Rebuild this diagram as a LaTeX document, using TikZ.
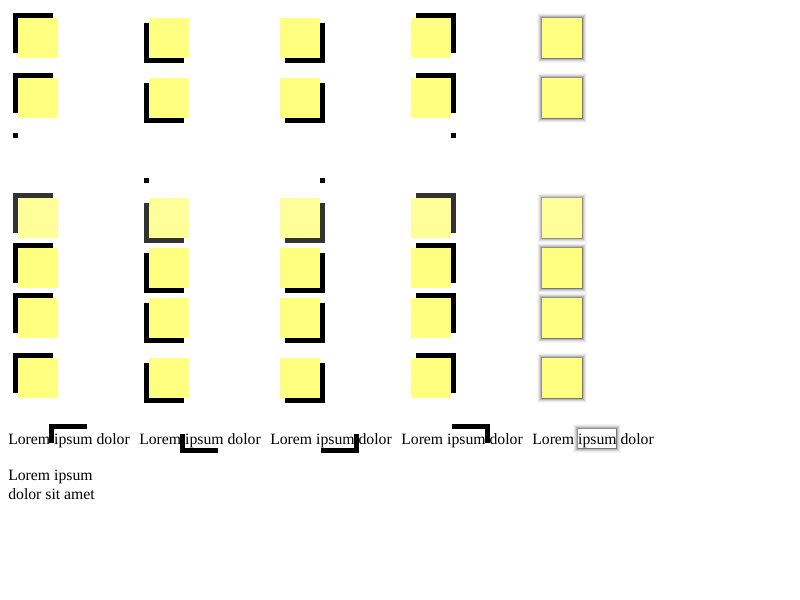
\documentclass[tikz,border=0pt]{standalone}
\usepackage{fontspec}
\setmainfont{Liberation Serif}
\usepackage{tikz}
\usetikzlibrary{calc}
\definecolor{Note}{RGB}{255,255,128}
\definecolor{NoteFaded}{RGB}{255,255,153}
\newcommand{\NoteBox}[6]{%
  \edef\lpin{#1}%
  \edef\ldx{#2}%
  \edef\ldy{#3}%
  \edef\lfill{#4}%
  \edef\lshade{#5}%
  \edef\lsize{#6}%
  \fill[\lshade] ($ (\lpin)+(\ldx,\ldy) $) rectangle +(\lsize);
  \fill[\lfill] (\lpin) rectangle +(\lsize);
}
\newcommand{\BlurBox}[4]{%
  \edef\bpin{#1}%
  \edef\bfill{#2}%
  \edef\bop{#3}%
  \edef\bsize{#4}%
  \foreach \b/\o in {5/0.03, 4/0.05, 3/0.09, 2/0.14, 1/0.2, 0.5/0.18}{
    \fill[black, fill opacity=\bop*\o] ($ (\bpin)-(\b,\b) $) rectangle ($ (\bpin)+(\bsize)+(\b,\b) $);
  }
  \fill[\bfill] (\bpin) rectangle +(\bsize);
}

\begin{document}
\begin{tikzpicture}[x=0.75pt, y=-0.75pt, line cap=round,
	every node/.style={inner sep=0, font=\fontsize{11.8pt}{14pt}\selectfont}]
	\def\gap{131}
	\def\side{40,40}
	\def\span{38,19}
	\useasboundingbox (0,0) rectangle (800,600);

	% boxes with offset shadows
	\foreach \c/\dx/\dy in {0/-5/-5, 1/-5/5, 2/5/5, 3/5/-5}{
		\foreach \r in {18, 78, 248, 298, 358}{
			\coordinate (P) at (18+\c*\gap, \r);
			\NoteBox{P}{\dx}{\dy}{Note}{black}{\side}
		}
		\coordinate (P) at (18+\c*\gap, 198);
		\NoteBox{P}{\dx}{\dy}{NoteFaded}{black!80}{\side}
	}

	% blurred column
	\foreach \r in {18, 78, 248, 298, 358}{
		\coordinate (P) at (542, \r);
		\BlurBox{P}{Note}{1}{\side}
	}
	\coordinate (P) at (542, 198);
	\BlurBox{P}{NoteFaded}{0.8}{\side}

	% empty boxes
	\fill (13,133) rectangle +(5,5);
	\fill (144,178) rectangle +(5,5);
	\fill (320,178) rectangle +(5,5);
	\fill (451,133) rectangle +(5,5);

	% inline spans
	\foreach \c/\dx/\dy in {0/-5/-5, 1/-5/5, 2/5/5, 3/5/-5}{
		\coordinate (S) at (54+\c*\gap, 429);
		\NoteBox{S}{\dx}{\dy}{white}{black}{\span}
	}
	\coordinate (S) at (578, 429);
	\BlurBox{S}{white}{1}{\span}

	\foreach \c in {0,...,4}
		\node[anchor=base west] (line\c) at (8+\c*\gap, 444) {Lorem ipsum dolor};

	\node[anchor=base west] (para1) at (8, 480) {Lorem ipsum};
	\node[anchor=base west] (para2) at (8, 499) {dolor sit amet};
\end{tikzpicture}
\end{document}
